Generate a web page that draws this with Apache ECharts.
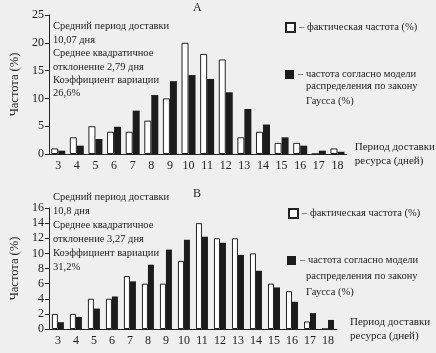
<!DOCTYPE html>
<html>
<head>
<meta charset="utf-8">
<script src="https://cdn.jsdelivr.net/npm/echarts@6/dist/echarts.min.js"></script>
<style>
  html, body { margin: 0; padding: 0; background: #efefef; }
  #chart { width: 436px; height: 353px; }
</style>
</head>
<body>
<div id="chart"></div>
<script>
// периоды доставки (дней)
const days = ['3', '4', '5', '6', '7', '8', '9', '10', '11', '12', '13', '14', '15', '16', '17', '18']

// график А
const factA = [1, 3, 5, 4, 4, 6, 10, 20, 18, 17, 3, 4, 2, 2, 0, 1]
const gaussA = [0.6, 1.5, 2.7, 4.9, 7.8, 10.6, 13.1, 14.2, 13.5, 11.1, 8.1, 5.3, 3.0, 1.5, 0.6, 0.4]
const ticksA = { min: 0, max: 25, interval: 5 }

// график В
const factB = [2, 2, 4, 4, 7, 6, 6, 9, 14, 12, 12, 10, 6, 5, 1, 0]
const gaussB = [0.9, 1.6, 2.7, 4.3, 6.3, 8.5, 10.5, 11.8, 12.2, 11.4, 9.8, 7.7, 5.5, 3.6, 2.1, 1.2]
const ticksB = { min: 0, max: 16, interval: 2 }

const notesA = ['Средний период доставки', '10,07 дня', 'Среднее квадратичное', 'отклонение 2,79 дня', 'Коэффициент вариации', '26,6%']
const notesB = ['Средний период доставки', '10,8 дня', 'Среднее квадратичное', 'отклонение 3,27 дня', 'Коэффициент вариации', '31,2%']

const FONT = '"Liberation Serif", "DejaVu Serif", serif'
const INK = '#222'

const chart = echarts.init(document.getElementById('chart'))

const xAxisOf = (idx, nameGap, pad) => ({
  type: 'category',
  gridIndex: idx,
  data: days,
  axisLine: { lineStyle: { color: INK } },
  axisTick: { lineStyle: { color: INK }, length: 4 },
  axisLabel: { color: INK, fontFamily: FONT, fontSize: 12, margin: 6 },
  name: 'Период доставки\nресурса (дней)',
  nameLocation: 'end',
  nameGap: nameGap,
  nameTextStyle: {
    color: INK, fontFamily: FONT, fontSize: 11, lineHeight: 13.5,
    align: 'left', verticalAlign: 'middle', padding: pad
  }
})

const yAxisOf = (idx, t) => ({
  type: 'value',
  gridIndex: idx,
  min: t.min,
  max: t.max,
  interval: t.interval,
  splitLine: { show: false },
  axisLine: { show: true, lineStyle: { color: INK } },
  axisTick: { show: true, lineStyle: { color: INK }, length: 4 },
  axisLabel: { color: INK, fontFamily: FONT, fontSize: 12, margin: 5 },
  name: 'Частота (%)',
  nameLocation: 'middle',
  nameGap: 23,
  nameTextStyle: { color: INK, fontFamily: FONT, fontSize: 12.5 }
})

const factSeries = (name, idx, data, w) => ({
  name, type: 'bar', xAxisIndex: idx, yAxisIndex: idx, data,
  barWidth: w, barGap: '0%',
  itemStyle: { color: '#fff', borderColor: INK, borderWidth: 1 }
})

const gaussSeries = (name, idx, data, w) => ({
  name, type: 'bar', xAxisIndex: idx, yAxisIndex: idx, data,
  barWidth: w, barGap: '0%',
  itemStyle: { color: '#1c1c1c' }
})

const legendLabels = {
  factA: '– фактическая частота (%)',
  gaussA: '– частота согласно модели',
  factB: '– фактическая частота (%)',
  gaussB: '– частота согласно модели'
}

const legendOf = (key, left, top) => ({
  data: [key],
  left, top,
  icon: 'rect',
  itemWidth: 9,
  itemHeight: 9,
  itemGap: 4,
  selectedMode: false,
  formatter: n => legendLabels[n],
  textStyle: { color: INK, fontFamily: FONT, fontSize: 10.5, padding: [0, 0, 0, -1] }
})

const textBlock = (text, left, top, lh) => ({
  type: 'text', left, top,
  style: { text, fill: INK, font: '10.5px ' + FONT, lineHeight: lh }
})

chart.setOption({
  backgroundColor: '#efefef',
  animation: false,
  grid: [
    { left: 46, right: 78, top: 15, height: 139 },
    { left: 46, right: 99, top: 208, height: 121 }
  ],
  xAxis: [xAxisOf(0, 8, [9, 0, 0, 0]), xAxisOf(1, 13, [0, 0, 0, 0])],
  yAxis: [yAxisOf(0, ticksA), yAxisOf(1, ticksB)],
  legend: [
    legendOf('factA', 280, 17),
    legendOf('gaussA', 280, 64),
    legendOf('factB', 283, 203),
    legendOf('gaussB', 282, 250)
  ],
  series: [
    factSeries('factA', 0, factA, 7),
    gaussSeries('gaussA', 0, gaussA, 7),
    factSeries('factB', 1, factB, 6),
    gaussSeries('gaussB', 1, gaussB, 6)
  ],
  graphic: [
    { type: 'text', left: 193, top: 2, style: { text: 'А', fill: INK, font: '12px ' + FONT } },
    { type: 'text', left: 193, top: 188, style: { text: 'В', fill: INK, font: '12px ' + FONT } },
    textBlock(notesA.join('\n'), 53, 20, 13.4),
    textBlock(notesB.join('\n'), 53, 190, 14),
    textBlock('распределения по закону\nГаусса (%)', 306, 79, 14.5),
    textBlock('распределения по закону\nГаусса (%)', 306, 268, 16)
  ]
})
</script>
</body>
</html>
